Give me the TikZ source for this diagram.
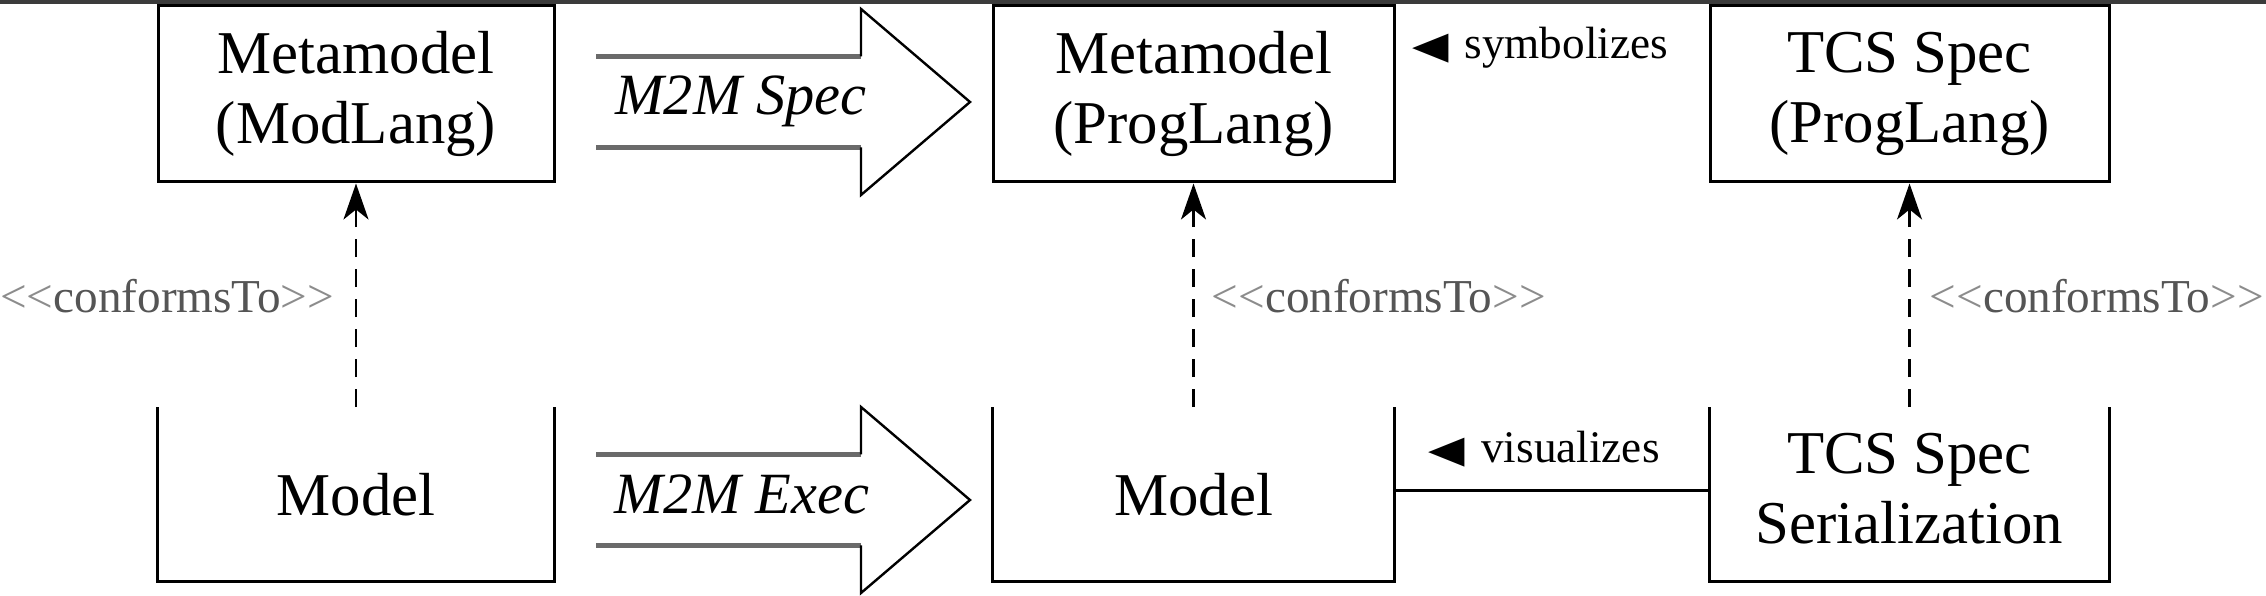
\documentclass[tikz,border=0pt]{standalone}
\usepackage{fontspec}
\setmainfont{Liberation Serif}
\newfontfamily\symfnt{DejaVu Sans}
\usetikzlibrary{arrows.meta}
\definecolor{barcol}{HTML}{3B3B3B}
\definecolor{shaftcol}{HTML}{6A6A6A}
\definecolor{lblcol}{HTML}{555555}
\definecolor{ltcol}{HTML}{8C8C8C}
\newcommand{\boxfnt}{\fontsize{15.2}{17.5}\selectfont}
\newcommand{\lblfnt}{\fontsize{11.3}{13}\selectfont}
\newcommand{\conffnt}{\fontsize{11.8}{13}\selectfont}
\newcommand{\arrfnt}{\fontsize{14.6}{17}\selectfont\itshape}
\newcommand{\tri}{{\symfnt\fontsize{9.5}{9.5}\selectfont\scalebox{1.25}[1]{◀}}}
\newcommand{\conftxt}{{\color{ltcol}<\kern0pt<}conformsTo{\color{ltcol}>\kern0pt>}}
\begin{document}
\begin{tikzpicture}[x=0.25pt,y=-0.25pt,
  topbox/.style={draw, line width=0.75pt, inner sep=0pt, align=center, font=\boxfnt, minimum width=#1, minimum height=44pt},
  openbox/.style={inner sep=0pt, align=center, font=\boxfnt, minimum width=#1, minimum height=43.25pt},
  boxline/.style={line width=0.75pt, line join=miter},
  conflink/.style={dash pattern=on 4.5pt off 3pt, line width=0.6pt, -{Stealth[length=9pt,width=6.25pt,inset=2.5pt]}},
  lbl/.style={font=\lblfnt, inner sep=0pt},
  conflbl/.style={font=\conffnt, text=lblcol, inner sep=0pt},
  mtwom/.style={font=\arrfnt, inner sep=0pt, anchor=base},
  bigshaft/.style={draw=shaftcol, line width=1.4pt},
  bighead/.style={draw=black, line width=0.6pt, line join=miter},
  bigarrow/.pic={
    \draw[bigshaft] (0,-45.5) -- (265,-45.5);
    \draw[bigshaft] (0,45.5) -- (265,45.5);
    \draw[bighead] (265,-45.5) -- (265,-93) -- (374,0) -- (265,93) -- (265,45.5);
  }]
\fill[white] (0,0) rectangle (2266,596);
\useasboundingbox (0,0) rectangle (2266,596);

% boxes
\node[topbox=99pt] (t1) at (356,94) {Metamodel\\(ModLang)};
\node[topbox=100.25pt] (t2) at (1193.5,94) {Metamodel\\(ProgLang)};
\node[topbox=99.75pt] (t3) at (1909.5,94) {TCS Spec\\(ProgLang)};
\node[openbox=99pt] (b1) at (356,494.5) {Model};
\node[openbox=100.25pt] (b2) at (1193.5,494.5) {Model};
\node[openbox=99.75pt, text depth=3.3pt] (b3) at (1909.5,494.5) {TCS Spec\\Serialization};
\foreach \n in {b1,b2,b3}
  \draw[boxline] (\n.north west) -- (\n.south west) -- (\n.south east) -- (\n.north east);

% big transformation arrows
\pic (a1) at (596,102) {bigarrow};
\pic (a2) at (596,500) {bigarrow};
\node[mtwom] (s1) at (741,115) {M2M Spec};
\node[mtwom] (s2) at (742,514) {M2M Exec};

% conformsTo
\draw[conflink] (b1.north) -- (t1.south);
\draw[conflink] (b2.north) -- (t2.south);
\draw[conflink] (b3.north) -- (t3.south);
\node[conflbl, anchor=base east] (c1) at (335,313) {\conftxt};
\node[conflbl, anchor=base west] (c2) at (1211,313) {\conftxt};
\node[conflbl, anchor=base west] (c3) at (1929,313) {\conftxt};

% symbolizes / visualizes
\node[lbl, anchor=base west] (sy) at (1412,59) {\tri\hspace{3.8pt}symbolizes};
\draw[boxline] ([yshift=1.1pt]b2.east) -- ([yshift=1.1pt]b3.west);
\node[lbl, anchor=base west] (vi) at (1428,463) {\tri\hspace{4pt}visualizes};

% top bar
\fill[barcol] (0,0) rectangle (2266,4.5);
\end{tikzpicture}
\end{document}
